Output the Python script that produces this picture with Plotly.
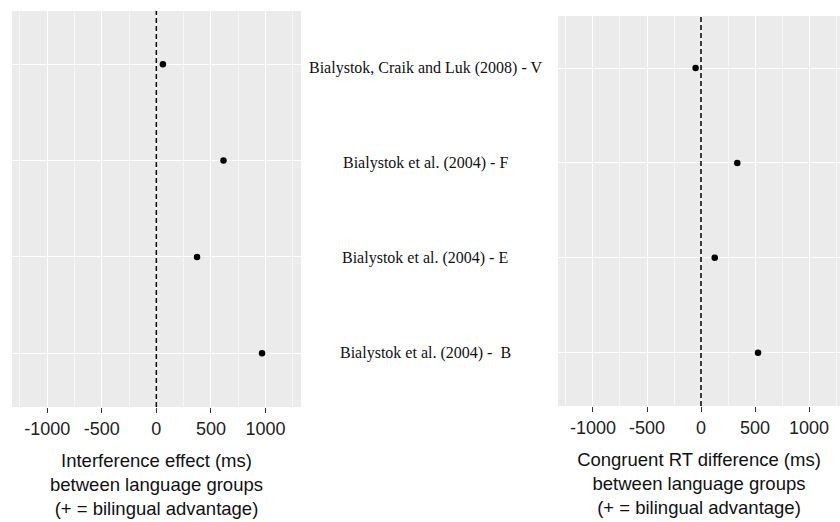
import plotly.graph_objects as go

# ---- data ----
studies = ["Bialystok, Craik and Luk (2008) - V",
           "Bialystok et al. (2004) - F",
           "Bialystok et al. (2004) - E",
           "Bialystok et al. (2004) -  B"]
study_pos = [4, 3, 2, 1]
interference = [60, 615, 373, 968]
congruent = [-50, 336, 127, 528]
tick_vals = [-1000, -500, 0, 500, 1000]
tick_text = ["-1000", "-500", "0", "500", "1000"]
minor_vals = [-1250, -750, -250, 250, 750, 1250]
ref_x = 0

W, H = 840, 522
BG = "#EBEBEB"
sans = "Liberation Sans, Arial, Helvetica, sans-serif"
serif = "Liberation Serif, Times New Roman, serif"

fig = go.Figure()
fig.add_trace(go.Scatter(x=interference, y=study_pos, mode="markers",
                         marker=dict(color="black", size=6.5), xaxis="x", yaxis="y",
                         showlegend=False, hoverinfo="skip"))
fig.add_trace(go.Scatter(x=congruent, y=study_pos, mode="markers",
                         marker=dict(color="black", size=6.5), xaxis="x2", yaxis="y2",
                         showlegend=False, hoverinfo="skip"))

def xaxis(domain, rng, title, anchor):
    return dict(domain=domain, range=rng, anchor=anchor,
                tickmode="array", tickvals=tick_vals, ticktext=tick_text,
                ticks="outside", ticklen=5, tickwidth=1, tickcolor="#333333",
                tickfont=dict(family=sans, size=18, color="#222222"),
                showgrid=True, gridcolor="white", gridwidth=1.3,
                minor=dict(tickmode="array", tickvals=minor_vals,
                           showgrid=True, gridcolor="#F6F6F6", gridwidth=0.7, ticks=""),
                zeroline=False, showline=False, fixedrange=True, automargin=False,
                title=dict(text=title, font=dict(family=sans, size=18.5, color="#111111"),
                           standoff=16))

def yaxis(domain, rng, anchor):
    return dict(domain=domain, range=rng, anchor=anchor,
                tickmode="array", tickvals=study_pos, showticklabels=False, ticks="",
                showgrid=True, gridcolor="white", gridwidth=1.3,
                zeroline=False, showline=False, fixedrange=True, automargin=False)

fig.update_layout(
    width=W, height=H,
    margin=dict(l=0, r=0, t=0, b=0),
    paper_bgcolor="white", plot_bgcolor=BG,
    xaxis=xaxis([12 / W, 301 / W], [-1322, 1325],
                "Interference effect (ms)<br>between language groups<br>(+ = bilingual advantage)", "y"),
    yaxis=yaxis([1 - 407 / H, 1 - 11 / H], [0.442, 4.553], "x"),
    xaxis2=xaxis([558 / W, 1.0], [-1324, 1287],
                 "Congruent RT difference (ms)<br>between language groups<br>(+ = bilingual advantage)", "y2"),
    yaxis2=yaxis([1 - 406 / H, 1 - 16 / H], [0.438, 4.548], "x2"),
)

# dashed reference lines at zero
for xr, yr in (("x", "y domain"), ("x2", "y2 domain")):
    fig.add_shape(type="line", xref=xr, yref=yr, x0=ref_x, x1=ref_x, y0=0, y1=1,
                  line=dict(color="black", width=1.5, dash="5px,3px"), layer="above")

# study labels in the middle
for s, p in zip(studies, study_pos):
    fig.add_annotation(text=s, x=425 / W, xref="paper", y=p, yref="y2",
                       showarrow=False, xanchor="center", yanchor="middle",
                       font=dict(family=serif, size=16, color="#111111"))

fig.write_html("out.html")
